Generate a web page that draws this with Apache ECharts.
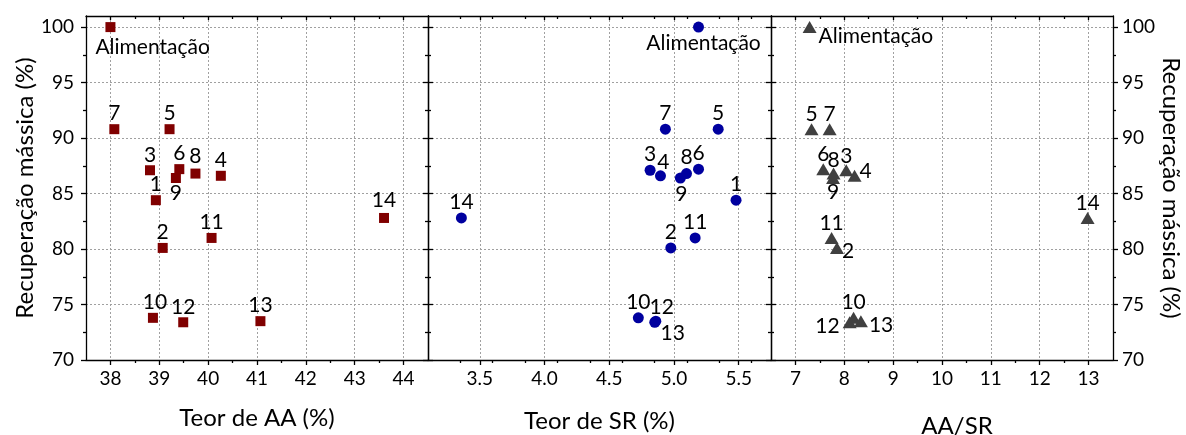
<!DOCTYPE html>
<html>
<head>
<meta charset="utf-8">
<script src="https://cdn.jsdelivr.net/npm/echarts@6/dist/echarts.min.js"></script>
<style>
html,body{margin:0;padding:0;background:#fff;}
#chart{width:1186px;height:435px;}
</style>
</head>
<body>
<div id="chart"></div>
<script>
// ---- data ----
const labels = ['Alimentação','1','2','3','4','5','6','7','8','9','10','11','12','13','14'];
const recovery = [100, 84.4, 80.1, 87.1, 86.6, 90.8, 87.2, 90.8, 86.8, 86.4, 73.8, 81.0, 73.4, 73.5, 82.8];
const teorAA = [38.0, 38.93, 39.07, 38.81, 40.26, 39.21, 39.41, 38.08, 39.74, 39.34, 38.87, 40.07, 39.49, 41.07, 43.6];
const teorSR = [5.19, 5.48, 4.976, 4.816, 4.896, 5.342, 5.19, 4.934, 5.097, 5.05, 4.725, 5.164, 4.852, 4.86, 3.358];
const razaoAASR = [7.29, null, 7.85, 8.04, 8.21, 7.33, 7.57, 7.70, 7.78, 7.77, 8.19, 7.74, 8.11, 8.34, 12.98];

const ticksAA = [38, 39, 40, 41, 42, 43, 44];
const ticksSR = [3.5, 4.0, 4.5, 5.0, 5.5];
const ticksRatio = [7, 8, 9, 10, 11, 12, 13];
const ticksRec = [70, 75, 80, 85, 90, 95, 100];

// ---- layout / style ----
const FONT = 'Lato';
const NAME_SIZE = 24, TICK_SIZE = 19, PT_SIZE = 21;
const panels = [
  {left: 86, width: 342, min: 37.5, max: 44.5, major: ticksAA, step: 0.5, name: 'Teor de AA (%)', namePad: [0,0,0,0], nameGap: 46,
   x: teorAA, color: '#800000', symbol: 'rect', size: 10, fmt: v => String(v)},
  {left: 428, width: 343, min: 3.1, max: 5.75, major: ticksSR, step: 0.25, name: 'Teor de SR (%)', namePad: [0,0,0,0], nameGap: 49,
   x: teorSR, color: '#00009f', symbol: 'circle', size: 11, fmt: v => v.toFixed(1)},
  {left: 771, width: 342, min: 6.5, max: 13.5, major: ticksRatio, step: 0.5, name: 'AA/SR', namePad: [0,0,0,30], nameGap: 54,
   x: razaoAASR, color: '#404040', symbol: 'triangle', size: [14, 12], fmt: v => String(v)}
];

const labelStyles = [
  [
    {position: 'inside', align: 'left', offset: [-15, 20]},
    {position: 'top'}, {position: 'top'}, {position: 'top'}, {position: 'top'}, {position: 'top'},
    {position: 'top'}, {position: 'top'}, {position: 'top', distance: 2}, {position: 'bottom'}, {position: 'top', offset: [2, 0]},
    {position: 'top'}, {position: 'top'}, {position: 'top'}, {position: 'top', distance: 2}
  ],
  [
    {position: 'bottom', offset: [5, 0]},
    {position: 'top'}, {position: 'top'}, {position: 'top'}, {position: 'top', offset: [3, 2]}, {position: 'top'},
    {position: 'top'}, {position: 'top'}, {position: 'top'}, {position: 'bottom', offset: [1, 0]}, {position: 'top'},
    {position: 'top'}, {position: 'top', offset: [7, 1]}, {position: 'bottom', offset: [17, -4]}, {position: 'top'}
  ],
  [
    {position: 'right', distance: 2, offset: [0, 9]},
    {position: 'top'}, {position: 'right', distance: -2, offset: [0, 3]}, {position: 'top', offset: [0, 2]}, {position: 'right', distance: -2, offset: [0, -5]}, {position: 'top', offset: [0, 2]},
    {position: 'top', offset: [0, 2]}, {position: 'top', offset: [0, 2]}, {position: 'top', offset: [0, 3]}, {position: 'bottom', offset: [0, -2]}, {position: 'top', offset: [0, 1]},
    {position: 'top', offset: [0, 2]}, {position: 'left', distance: 3, offset: [0, 4]}, {position: 'right', distance: 1, offset: [0, 4]}, {position: 'top', offset: [0, 2]}
  ]
];

function minors(majors, step, min, max) {
  const out = [];
  for (let v = min; v <= max + 1e-9; v = Math.round((v + step) * 1e6) / 1e6) {
    if (!majors.some(m => Math.abs(m - v) < 1e-6)) out.push(v);
  }
  return out;
}

const TOP = 16, HEIGHT = 344, YMIN = 70, YMAX = 101;
const lineStyle = {color: '#000', width: 1.3};
const gridLine = {show: true, lineStyle: {color: '#a0a0a0', type: [2, 2], width: 1}};

const grid = [], xAxis = [], yAxis = [], series = [];
const recMinor = minors(ticksRec, 2.5, 70, 100);

panels.forEach((p, g) => {
  grid.push({left: p.left, width: p.width, top: TOP, height: HEIGHT, containLabel: false, outerBoundsMode: 'none'});
  const xMinor = minors(p.major, p.step, p.min, p.max).filter(v => v > p.min && v < p.max);
  const base = {type: 'value', gridIndex: g, min: p.min, max: p.max, axisLine: {show: true, onZero: false, lineStyle}};
  xAxis.push(Object.assign({}, base, {
    position: 'bottom',
    axisTick: {show: true, inside: false, length: 5, customValues: p.major, lineStyle},
    axisLabel: {show: true, customValues: p.major, formatter: p.fmt, fontFamily: FONT, fontSize: TICK_SIZE, color: '#000', margin: 9},
    splitLine: gridLine,
    name: p.name, nameLocation: 'middle', nameGap: p.nameGap,
    nameTextStyle: {fontFamily: FONT, fontSize: NAME_SIZE, color: '#000', padding: p.namePad}
  }));
  xAxis.push(Object.assign({}, base, {
    position: 'bottom', axisLine: {show: false, onZero: false},
    axisTick: {show: true, inside: false, length: 3, customValues: xMinor, lineStyle},
    axisLabel: {show: false}, splitLine: {show: false}
  }));
  xAxis.push(Object.assign({}, base, {
    position: 'top',
    axisTick: {show: true, inside: true, length: 4, customValues: p.major, lineStyle},
    axisLabel: {show: false}, splitLine: {show: false}
  }));
  xAxis.push(Object.assign({}, base, {
    position: 'top', axisLine: {show: false, onZero: false},
    axisTick: {show: true, inside: true, length: 3, customValues: xMinor, lineStyle},
    axisLabel: {show: false}, splitLine: {show: false}
  }));

  const yBase = {type: 'value', gridIndex: g, min: YMIN, max: YMAX, axisLine: {show: true, onZero: false, lineStyle}};
  const leftOut = g === 0, rightOut = g === 2;
  yAxis.push(Object.assign({}, yBase, {
    position: 'left',
    axisTick: {show: true, inside: !leftOut, length: 5, customValues: ticksRec, lineStyle},
    axisLabel: {show: leftOut, customValues: ticksRec, fontFamily: FONT, fontSize: TICK_SIZE, color: '#000', margin: 12},
    splitLine: gridLine,
    name: leftOut ? 'Recuperação mássica (%)' : '', nameLocation: 'middle', nameGap: 46, nameRotate: 90,
    nameTextStyle: {fontFamily: FONT, fontSize: NAME_SIZE, color: '#000'}
  }));
  yAxis.push(Object.assign({}, yBase, {
    position: 'left', axisLine: {show: false, onZero: false},
    axisTick: {show: true, inside: !leftOut, length: 3, customValues: recMinor, lineStyle},
    axisLabel: {show: false}, splitLine: {show: false}
  }));
  yAxis.push(Object.assign({}, yBase, {
    position: 'right',
    axisTick: {show: true, inside: !rightOut, length: 5, customValues: ticksRec, lineStyle},
    axisLabel: {show: rightOut, customValues: ticksRec, fontFamily: FONT, fontSize: TICK_SIZE, color: '#000', margin: 9},
    splitLine: {show: false},
    name: rightOut ? 'Recuperação mássica (%)' : '', nameLocation: 'middle', nameGap: 46, nameRotate: -90,
    nameTextStyle: {fontFamily: FONT, fontSize: NAME_SIZE, color: '#000'}
  }));
  yAxis.push(Object.assign({}, yBase, {
    position: 'right', axisLine: {show: false, onZero: false},
    axisTick: {show: true, inside: !rightOut, length: 3, customValues: recMinor, lineStyle},
    axisLabel: {show: false}, splitLine: {show: false}
  }));

  const data = [];
  labels.forEach((lab, i) => {
    if (p.x[i] == null) return;
    const ls = labelStyles[g][i];
    data.push({
      value: [p.x[i], recovery[i]],
      name: lab,
      label: Object.assign({show: true, formatter: lab, distance: 0, fontFamily: FONT, fontSize: PT_SIZE, color: '#000'}, ls)
    });
  });
  series.push({
    type: 'scatter', xAxisIndex: g * 4, yAxisIndex: g * 4,
    symbol: p.symbol, symbolSize: p.size,
    itemStyle: {color: p.color, opacity: 1},
    data, z: 5, animation: false
  });
});

const chart = echarts.init(document.getElementById('chart'), null, {renderer: 'canvas'});
chart.setOption({animation: false, backgroundColor: '#fff', grid, xAxis, yAxis, series});
</script>
</body>
</html>
